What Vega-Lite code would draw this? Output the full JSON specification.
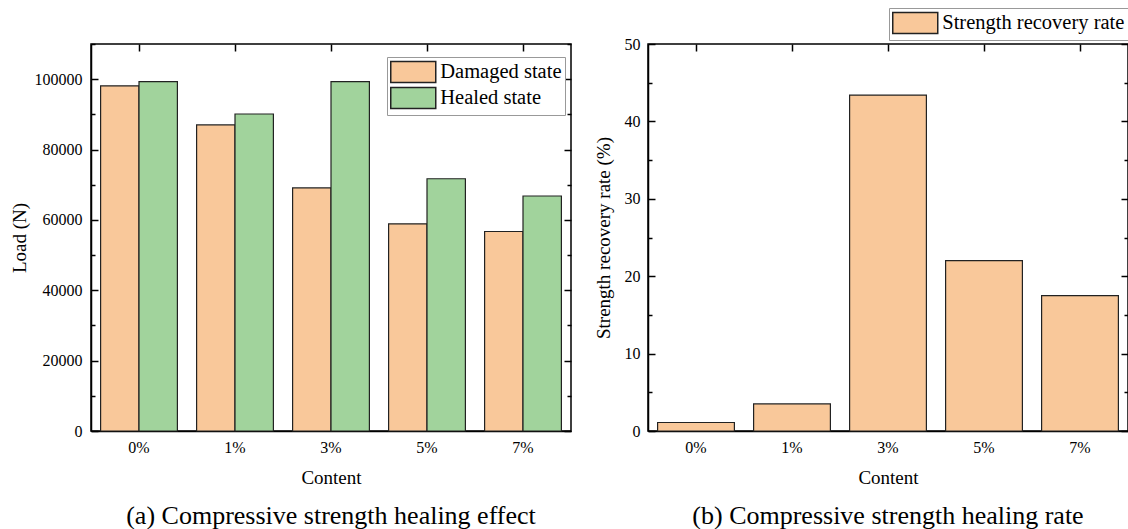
{
  "$schema": "https://vega.github.io/schema/vega-lite/v6.json",
  "background": "white",
  "padding": {"left": 9, "top": -265, "right": 0, "bottom": 0},
  "spacing": 20,
  "resolve": {"scale": {"fill": "independent", "x": "independent", "y": "independent"}, "legend": {"fill": "independent"}},
  "config": {
    "font": "Liberation Serif",
    "view": {"stroke": "black", "strokeWidth": 1.5},
    "axis": {
      "labelFont": "Liberation Serif",
      "titleFont": "Liberation Serif",
      "labelFontSize": 16,
      "titleFontSize": 19,
      "titleFontWeight": "normal",
      "labelColor": "black",
      "titleColor": "black",
      "domainColor": "black",
      "domainWidth": 1.5,
      "tickColor": "black",
      "tickWidth": 1.5,
      "grid": false
    },
    "legend": {
      "labelFont": "Liberation Serif",
      "labelFontSize": 20.5,
      "labelColor": "black",
      "labelLimit": 400,
      "strokeColor": "#999",
      "fillColor": "white",
      "padding": 3,
      "rowPadding": -5,
      "symbolOffset": 11.25,
      "labelOffset": 15,
      "symbolType": "M-2,-0.933H2V0.933H-2Z",
      "symbolSize": 506.25,
      "symbolStrokeColor": "#222",
      "symbolStrokeWidth": 1.5,
      "symbolOpacity": 1
    },
    "title": {"font": "Liberation Serif", "fontSize": 26, "fontWeight": "normal", "color": "black"}
  },
  "hconcat": [
    {
      "width": 480,
      "height": 387,
      "title": {"text": "(a) Compressive strength healing effect", "orient": "bottom", "offset": 16},
      "data": {
        "values": [
          {"content": "0%", "state": "Damaged state", "load": 98100},
          {"content": "0%", "state": "Healed state", "load": 99300},
          {"content": "1%", "state": "Damaged state", "load": 87000},
          {"content": "1%", "state": "Healed state", "load": 90100},
          {"content": "3%", "state": "Damaged state", "load": 69100},
          {"content": "3%", "state": "Healed state", "load": 99300},
          {"content": "5%", "state": "Damaged state", "load": 58900},
          {"content": "5%", "state": "Healed state", "load": 71700},
          {"content": "7%", "state": "Damaged state", "load": 56700},
          {"content": "7%", "state": "Healed state", "load": 66800}
        ]
      },
      "layer": [
        {
          "mark": {"type": "bar", "stroke": "#222", "strokeWidth": 1.2},
          "encoding": {
            "x": {
              "field": "content", "type": "nominal", "sort": ["0%", "1%", "3%", "5%", "7%"],
              "scale": {"paddingInner": 0.2, "paddingOuter": 0.1},
              "axis": {"orient": "bottom", "title": "Content", "labelAngle": 0, "tickSize": -7, "labelPadding": 15, "titlePadding": 13}
            },
            "xOffset": {"field": "state", "type": "nominal", "sort": ["Damaged state", "Healed state"], "scale": {"paddingInner": 0, "paddingOuter": 0}},
            "y": {
              "field": "load", "type": "quantitative",
              "scale": {"domain": [0, 110000], "nice": false},
              "axis": {
                "orient": "left", "title": "Load (N)", "format": "d",
                "values": [0, 10000, 20000, 30000, 40000, 50000, 60000, 70000, 80000, 90000, 100000, 110000],
                "labelExpr": "datum.value % 20000 === 0 && datum.value < 110000 ? datum.label : ''",
                "tickSize": {"condition": {"test": "datum.value % 20000 === 0", "value": -7}, "value": -4},
                "labelPadding": 16, "titlePadding": 5
              }
            },
            "fill": {
              "field": "state", "type": "nominal",
              "scale": {"domain": ["Damaged state", "Healed state"], "range": ["#F9C89A", "#A1D39C"]},
              "legend": {"title": null, "orient": "none", "legendX": 296, "legendY": 13}
            }
          }
        },
        {
          "mark": {"type": "bar", "opacity": 0},
          "encoding": {
            "x": {
              "field": "content", "type": "nominal", "sort": ["0%", "1%", "3%", "5%", "7%"],
              "axis": {"orient": "top", "title": null, "labels": false, "domain": false, "tickSize": -7}
            },
            "y": {
              "field": "load", "type": "quantitative",
              "axis": {
                "orient": "right", "title": null, "labels": false, "domain": false,
                "values": [0, 10000, 20000, 30000, 40000, 50000, 60000, 70000, 80000, 90000, 100000, 110000],
                "tickSize": {"condition": {"test": "datum.value % 20000 === 0", "value": -7}, "value": -4}
              }
            }
          }
        }
      ]
    },
    {
      "width": 480,
      "height": 387,
      "title": {"text": "(b) Compressive strength healing rate", "orient": "bottom", "offset": 16},
      "data": {
        "values": [
          {"content": "0%", "series": "Strength recovery rate", "rate": 1.1},
          {"content": "1%", "series": "Strength recovery rate", "rate": 3.5},
          {"content": "3%", "series": "Strength recovery rate", "rate": 43.4},
          {"content": "5%", "series": "Strength recovery rate", "rate": 22.0},
          {"content": "7%", "series": "Strength recovery rate", "rate": 17.5}
        ]
      },
      "layer": [
        {
          "mark": {"type": "bar", "stroke": "#222", "strokeWidth": 1.2},
          "encoding": {
            "x": {
              "field": "content", "type": "nominal", "sort": ["0%", "1%", "3%", "5%", "7%"],
              "scale": {"paddingInner": 0.2, "paddingOuter": 0.1},
              "axis": {"orient": "bottom", "title": "Content", "labelAngle": 0, "tickSize": -7, "labelPadding": 15, "titlePadding": 13}
            },
            "y": {
              "field": "rate", "type": "quantitative",
              "scale": {"domain": [0, 50], "nice": false},
              "axis": {
                "orient": "left", "title": "Strength recovery rate (%)",
                "values": [0, 5, 10, 15, 20, 25, 30, 35, 40, 45, 50],
                "labelExpr": "datum.value % 10 === 0 ? datum.label : ''",
                "tickSize": {"condition": {"test": "datum.value % 10 === 0", "value": -7}, "value": -4},
                "labelPadding": 15, "titlePadding": 11
              }
            },
            "fill": {
              "field": "series", "type": "nominal",
              "scale": {"domain": ["Strength recovery rate"], "range": ["#F9C89A"]},
              "legend": {"title": null, "orient": "none", "legendX": 241, "legendY": -36}
            }
          }
        },
        {
          "mark": {"type": "bar", "opacity": 0},
          "encoding": {
            "x": {
              "field": "content", "type": "nominal", "sort": ["0%", "1%", "3%", "5%", "7%"],
              "axis": {"orient": "top", "title": null, "labels": false, "domain": false, "tickSize": -7}
            },
            "y": {
              "field": "rate", "type": "quantitative",
              "axis": {
                "orient": "right", "title": null, "labels": false, "domain": false,
                "values": [0, 5, 10, 15, 20, 25, 30, 35, 40, 45, 50],
                "tickSize": {"condition": {"test": "datum.value % 10 === 0", "value": -7}, "value": -4}
              }
            }
          }
        }
      ]
    }
  ]
}
